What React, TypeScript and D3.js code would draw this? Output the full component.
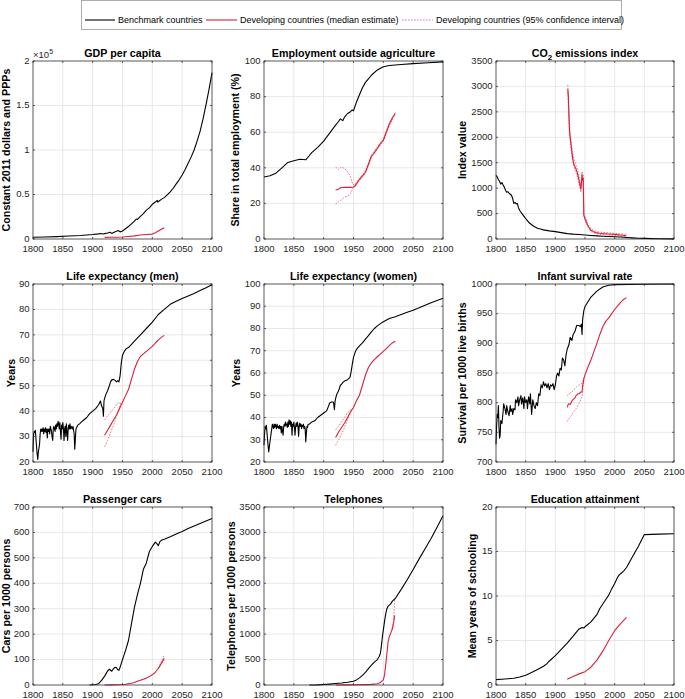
import React from "react";
import * as d3 from "d3";

type Pt = [number, number];

// ---------- tick labels ----------
const xTicks = [1800, 1850, 1900, 1950, 2000, 2050, 2100];
const gdpTicks = [0, 50000, 100000, 150000, 200000];
const pctTicks = [0, 20, 40, 60, 80, 100];
const co2Ticks = [0, 500, 1000, 1500, 2000, 2500, 3000, 3500];
const lifeMenTicks = [20, 30, 40, 50, 60, 70, 80, 90];
const lifeWomenTicks = [20, 30, 40, 50, 60, 70, 80, 90, 100];
const infantTicks = [700, 750, 800, 850, 900, 950, 1000];
const carTicks = [0, 100, 200, 300, 400, 500, 600, 700];
const telTicks = [0, 500, 1000, 1500, 2000, 2500, 3000, 3500];
const eduTicks = [0, 5, 10, 15, 20];

const legendLabels = [
  "Benchmark countries",
  "Developing countries (median estimate)",
  "Developing countries (95% confidence interval)",
];

// ---------- GDP per capita ----------
const gdpBench: Pt[] = [[1800,2000],[1820,2300],[1840,2700],[1860,3300],[1880,4000],[1900,5000],[1910,5800],[1913,6200],[1918,5700],[1920,6000],[1925,6800],[1929,7600],[1932,6300],[1935,7200],[1940,8600],[1943,9500],[1946,8000],[1950,9000],[1955,11500],[1960,14000],[1965,17000],[1970,20000],[1973,22500],[1975,22000],[1980,25500],[1985,28500],[1990,32500],[1995,35000],[2000,39000],[2005,41500],[2008,43500],[2009,41500],[2012,43000],[2015,44500],[2020,46500],[2025,49500],[2030,53000],[2035,57000],[2040,62000],[2045,66500],[2050,72000],[2055,78000],[2060,85000],[2065,92000],[2070,100000],[2075,110000],[2080,121000],[2085,135000],[2090,151000],[2095,168000],[2100,187000]];
const gdpDev: Pt[] = [[1920,1800],[1930,1900],[1940,2000],[1950,2200],[1960,2800],[1970,3500],[1980,4500],[1990,5000],[2000,5500],[2005,7000],[2010,9000],[2015,11000],[2020,12500]];

// ---------- Employment outside agriculture ----------
const empBench: Pt[] = [[1800,34.8],[1810,35.5],[1820,37],[1830,40],[1840,43],[1850,44],[1860,44.8],[1870,44.5],[1875,46.5],[1880,48.5],[1890,51.5],[1900,55],[1910,59.5],[1920,64],[1925,66],[1928,67.5],[1932,66.5],[1935,68.5],[1940,70.5],[1945,71.5],[1948,72.5],[1950,72],[1952,74],[1955,77],[1960,81],[1965,85],[1970,88],[1975,90],[1980,92],[1990,95],[2000,96.8],[2010,97.5],[2030,98],[2050,98.5],[2075,99],[2100,99.5]];
const empDev: Pt[] = [[1920,27.5],[1925,28],[1928,28.8],[1935,29],[1945,29],[1950,29.2],[1953,30],[1957,32],[1960,33.5],[1965,35.5],[1970,37.5],[1975,42],[1980,46.5],[1985,48.5],[1990,51],[1995,53.5],[2000,55.5],[2005,60],[2010,64.5],[2015,68],[2020,70.5]];
const empUp: Pt[] = [[1920,40.5],[1925,39],[1930,40.5],[1935,39.5],[1940,38],[1945,35],[1949,30.5],[1953,30.6],[1960,34.2],[1970,38.2],[1980,47.2],[1990,51.7],[2000,56.2],[2010,65.3],[2020,71]];
const empLo: Pt[] = [[1920,19.5],[1925,21],[1930,22],[1935,23.5],[1940,24],[1945,25.5],[1950,29.4],[1953,29.5],[1960,32.8],[1970,36.9],[1980,45.8],[1990,50.4],[2000,54.8],[2010,63.8],[2020,70]];

// ---------- CO2 emissions index ----------
const co2Bench: Pt[] = [[1800,1250],[1802,1220],[1804,1170],[1806,1130],[1808,1080],[1810,1110],[1812,1060],[1814,1020],[1816,960],[1818,920],[1820,930],[1822,900],[1824,880],[1826,860],[1828,800],[1830,700],[1832,720],[1834,690],[1836,700],[1838,610],[1840,560],[1845,480],[1850,400],[1855,330],[1860,280],[1865,240],[1870,210],[1875,195],[1880,180],[1890,160],[1900,145],[1910,125],[1920,105],[1930,95],[1940,88],[1950,80],[1960,70],[1970,62],[1980,55],[1990,50],[2000,45],[2010,38],[2020,30],[2030,22],[2040,16],[2050,12],[2075,6],[2100,3]];
const co2Dev: Pt[] = [[1921,2950],[1922,2800],[1923,2400],[1924,2100],[1925,2000],[1927,1800],[1929,1600],[1931,1480],[1933,1420],[1935,1370],[1937,1300],[1939,1200],[1941,1100],[1943,980],[1944,1100],[1945,1270],[1946,1150],[1947,1200],[1948,470],[1950,400],[1952,340],[1955,260],[1958,200],[1960,170],[1965,140],[1970,120],[1975,112],[1980,106],[1990,98],[2000,90],[2010,80],[2020,65]];
const co2Up: Pt[] = [[1921,3030],[1923,2500],[1925,2080],[1929,1680],[1933,1500],[1937,1380],[1941,1170],[1943,1050],[1945,1330],[1947,1270],[1948,500],[1950,440],[1955,290],[1960,195],[1970,145],[1980,130],[2000,112],[2020,90]];
const co2Lo: Pt[] = [[1921,2880],[1923,2300],[1925,1920],[1929,1530],[1933,1350],[1937,1230],[1941,1030],[1943,920],[1945,1200],[1947,1140],[1948,440],[1950,370],[1955,235],[1960,145],[1970,100],[1980,88],[2000,72],[2020,50]];

// ---------- Life expectancy (men) ----------
const menBench: Pt[] = [[1800,24],[1801,31],[1802,32],[1803,31.5],[1804,32.5],[1805,29],[1806,26],[1807,23],[1808,21],[1809,24],[1810,25.5],[1811,27],[1812,31],[1813,33],[1814,32],[1815,33],[1816,32],[1817,33.5],[1818,31],[1819,33],[1820,32],[1821,33.5],[1822,31.5],[1823,33],[1824,29.5],[1825,33],[1826,32],[1827,33],[1828,31],[1829,34],[1830,33],[1831,32],[1832,30],[1833,28.5],[1834,33],[1835,34],[1836,33],[1837,32],[1838,34.5],[1839,33],[1840,35],[1841,34],[1842,36],[1843,35],[1844,33],[1845,35.5],[1846,32],[1847,29],[1848,34.5],[1849,33],[1850,35.5],[1851,33],[1852,28.5],[1853,33],[1854,34],[1855,30],[1856,35],[1857,32],[1858,28.5],[1859,33],[1860,34.5],[1861,33],[1862,35],[1863,33],[1864,34],[1865,33.5],[1866,33],[1867,34],[1868,32.5],[1869,31],[1870,25],[1871,29],[1872,33],[1873,33.5],[1874,34],[1875,34.5],[1878,35],[1880,35.5],[1885,36.5],[1890,37.5],[1895,39],[1900,40],[1905,41],[1910,42.5],[1913,44],[1915,42],[1917,41],[1918,38],[1919,44],[1920,45],[1922,46.5],[1925,48],[1928,50],[1930,51.5],[1932,52.3],[1935,52.5],[1938,52],[1940,51.5],[1942,52],[1944,51.5],[1946,54],[1948,59],[1950,62],[1953,63.5],[1956,64.5],[1960,65],[1970,67.5],[1980,70],[1990,72.5],[2000,75],[2010,78],[2020,80],[2030,82],[2040,83.2],[2050,84.3],[2060,85.3],[2070,86.3],[2080,87.4],[2090,88.5],[2100,89.7]];
const menDev: Pt[] = [[1920,30.5],[1925,32.5],[1930,34.5],[1935,36.5],[1940,38.5],[1945,41],[1950,43.5],[1955,46],[1960,48.5],[1965,52.5],[1970,56.5],[1975,59.5],[1980,61.5],[1985,62.5],[1990,63.5],[1995,64.5],[2000,65.5],[2005,66.8],[2010,68],[2015,69],[2020,69.8]];
const menUp: Pt[] = [[1920,36.5],[1925,38],[1930,39.5],[1935,41],[1940,42.5],[1944,43.5],[1948,42.5]];
const menLo: Pt[] = [[1920,26],[1925,28.5],[1930,31.5],[1935,34.5],[1940,38],[1944,41],[1947,43],[1950,43.5]];

// ---------- Life expectancy (women) ----------
const womenBench: Pt[] = [[1800,27.5],[1801,33],[1802,36],[1803,35],[1804,36.5],[1805,33],[1806,30],[1807,27],[1808,24.5],[1809,27],[1810,29],[1811,31],[1812,33],[1813,35],[1814,37],[1815,36],[1816,35],[1817,37],[1818,35.5],[1819,37],[1820,36],[1821,35],[1822,37],[1823,35.5],[1824,36],[1825,35],[1826,36.5],[1827,35],[1828,36],[1829,33],[1830,36],[1831,34],[1832,32],[1833,36],[1834,37],[1835,36],[1836,38],[1837,36.5],[1838,37],[1839,35.5],[1840,38],[1841,36],[1842,39],[1843,37],[1844,38.5],[1845,36],[1846,38],[1847,32],[1848,37],[1849,36],[1850,38],[1851,35.5],[1852,32],[1853,36],[1854,37.5],[1855,36],[1856,38],[1857,36],[1858,31.5],[1859,36],[1860,37.5],[1861,36],[1862,37],[1863,35],[1864,36.5],[1865,36],[1866,37],[1867,35],[1868,36],[1869,35],[1870,29],[1871,33],[1872,36],[1873,35.5],[1874,37],[1876,37],[1878,37.5],[1880,38],[1885,38.5],[1890,40],[1895,41],[1900,42],[1905,43],[1908,45],[1910,46.5],[1913,47],[1916,47],[1917,46],[1918,43.5],[1919,47],[1920,48.5],[1922,50.5],[1925,52],[1928,54.5],[1930,55],[1933,56],[1936,56.5],[1940,57],[1942,57.5],[1944,58],[1946,60.5],[1948,64],[1950,67],[1953,69.5],[1956,71],[1960,72.2],[1965,73.5],[1970,75.2],[1975,76.8],[1980,78.5],[1985,80],[1990,81.2],[1995,82.2],[2000,83],[2010,84.5],[2020,85.3],[2030,86.3],[2040,87.3],[2050,88.2],[2060,89.3],[2070,90.5],[2080,91.6],[2090,92.6],[2100,93.6]];
const womenDev: Pt[] = [[1920,31],[1925,33.5],[1930,35.5],[1935,37.5],[1940,40],[1945,42.5],[1950,44.5],[1955,47.5],[1960,50],[1965,54.5],[1970,59],[1975,62.5],[1980,64.5],[1985,66],[1990,67.3],[1995,68.5],[2000,69.7],[2005,71],[2010,72.3],[2015,73.5],[2020,74.3]];
const womenUp: Pt[] = [[1920,34.5],[1925,36],[1930,38],[1935,40],[1940,42],[1945,43.5],[1948,43.8]];
const womenLo: Pt[] = [[1920,27.5],[1925,30],[1930,32.5],[1935,35.5],[1940,39],[1945,42.5],[1948,44]];

// ---------- Infant survival rate ----------
const infBench: Pt[] = [[1800,730],[1801,760],[1802,780],[1803,775],[1804,795],[1805,760],[1806,740],[1807,745],[1808,770],[1810,765],[1812,785],[1813,798],[1815,790],[1817,780],[1818,795],[1820,785],[1822,778],[1824,795],[1825,785],[1827,790],[1828,780],[1830,790],[1832,788],[1833,805],[1835,800],[1837,810],[1838,795],[1840,805],[1842,812],[1843,798],[1845,808],[1847,790],[1848,810],[1850,800],[1852,805],[1853,790],[1855,810],[1857,798],[1858,815],[1860,780],[1862,805],[1864,795],[1866,790],[1868,800],[1870,795],[1872,815],[1874,812],[1876,830],[1878,825],[1880,835],[1882,828],[1884,832],[1886,825],[1888,832],[1890,822],[1892,830],[1894,828],[1896,832],[1898,822],[1900,830],[1902,845],[1904,850],[1906,845],[1908,858],[1910,855],[1912,875],[1914,872],[1916,862],[1918,880],[1920,890],[1923,898],[1925,910],[1928,905],[1930,915],[1933,920],[1936,930],[1940,930],[1942,928],[1944,932],[1945,915],[1946,940],[1948,955],[1950,962],[1955,970],[1960,978],[1970,988],[1980,995],[1990,998],[2000,999],[2050,999.7],[2100,1000]];
const infDev: Pt[] = [[1920,792],[1922,798],[1925,797],[1928,803],[1930,805],[1933,808],[1935,812],[1938,815],[1940,815],[1943,818],[1945,818],[1946,828],[1948,840],[1950,847],[1955,860],[1960,872],[1965,886],[1970,900],[1975,915],[1980,928],[1985,937],[1990,943],[1995,950],[2000,957],[2005,963],[2010,969],[2015,974],[2020,977]];
const infUp: Pt[] = [[1920,812],[1925,816],[1930,820],[1935,826],[1940,830],[1945,833],[1947,838],[1948,842]];
const infLo: Pt[] = [[1920,768],[1925,776],[1930,783],[1935,790],[1940,799],[1945,810],[1947,830],[1948,838]];

// ---------- Passenger cars ----------
const carBench: Pt[] = [[1895,0],[1900,1],[1905,2],[1910,5],[1915,18],[1920,35],[1925,55],[1928,62],[1930,58],[1932,54],[1935,65],[1938,70],[1940,68],[1942,60],[1944,58],[1946,70],[1948,85],[1950,100],[1955,135],[1960,175],[1965,240],[1970,305],[1975,355],[1980,400],[1985,455],[1988,470],[1990,480],[1995,525],[2000,545],[2005,562],[2008,555],[2010,548],[2013,565],[2016,570],[2020,573],[2030,583],[2040,594],[2050,604],[2060,615],[2070,625],[2080,635],[2090,645],[2100,655]];
const carDev: Pt[] = [[1920,0],[1930,0.5],[1940,1],[1950,2],[1955,3],[1960,5],[1965,7],[1970,10],[1975,15],[1980,19],[1985,23],[1990,27],[1995,33],[2000,40],[2005,50],[2010,65],[2015,85],[2020,105]];
const carUp: Pt[] = [[2010,66],[2015,90],[2020,117]];
const carLo: Pt[] = [[2010,64],[2015,82],[2020,98]];

// ---------- Telephones ----------
const telBench: Pt[] = [[1876,0],[1890,3],[1900,10],[1910,18],[1920,28],[1930,40],[1940,55],[1950,75],[1955,100],[1960,140],[1965,190],[1970,250],[1975,320],[1980,390],[1985,450],[1990,500],[1993,560],[1995,620],[1996,700],[1997,800],[1998,900],[1999,1000],[2000,1080],[2002,1250],[2004,1400],[2006,1500],[2008,1550],[2010,1570],[2012,1590],[2014,1630],[2016,1660],[2020,1700],[2030,1880],[2040,2070],[2050,2270],[2060,2480],[2070,2680],[2080,2880],[2090,3100],[2100,3330]];
const telDev: Pt[] = [[1920,0],[1940,2],[1960,5],[1970,8],[1980,12],[1990,25],[1995,50],[1998,80],[2000,100],[2002,200],[2004,400],[2006,620],[2008,850],[2010,950],[2012,1010],[2014,1070],[2016,1150],[2018,1280],[2019,1370]];
const telUp: Pt[] = [[2015,1110],[2017,1250],[2018,1450],[2019,1670]];
const telLo: Pt[] = [[2015,1090],[2017,1140],[2019,1150]];

// ---------- Education attainment ----------
const eduBench: Pt[] = [[1800,0.6],[1810,0.65],[1820,0.7],[1830,0.75],[1840,0.9],[1850,1.1],[1860,1.4],[1870,1.75],[1880,2.1],[1885,2.35],[1890,2.7],[1900,3.3],[1910,4.0],[1920,4.7],[1930,5.5],[1940,6.3],[1945,6.45],[1948,6.4],[1950,6.55],[1960,7.1],[1970,7.9],[1975,8.6],[1980,9.1],[1985,9.6],[1990,10.1],[1995,10.8],[2000,11.4],[2005,12.1],[2008,12.4],[2010,12.5],[2015,12.8],[2020,13.2],[2030,14.4],[2040,15.6],[2050,16.9],[2075,16.95],[2100,17.0]];
const eduDev: Pt[] = [[1920,0.65],[1930,0.95],[1940,1.25],[1950,1.5],[1960,2.0],[1970,2.8],[1980,3.8],[1990,5.0],[2000,6.1],[2010,6.9],[2020,7.6]];

// ---------- layout ----------
const FONT = "'Liberation Sans', Arial, Helvetica, sans-serif";
const colLeft = [33, 264, 496];
const colWidth = [179, 179, 178];
const rowTop = [61, 284, 507];
const PH = 178;
const RED = "#d7223b";
const CI = "#e5526a";
const AX = "#262626";
const TICK_FS = 9.5;

interface PanelDef {
  title: React.ReactNode;
  ylabel: string;
  yTicks: number[];
  fmt: (v: number) => string;
  bench: Pt[];
  dev: Pt[];
  up?: Pt[];
  lo?: Pt[];
  ylabOff: number;
  exp?: boolean;
}

const panels: PanelDef[] = [
  { title: "GDP per capita", ylabel: "Constant 2011 dollars and PPPs", yTicks: gdpTicks, fmt: (v) => String(v / 1e5), bench: gdpBench, dev: gdpDev, ylabOff: -23, exp: true },
  { title: "Employment outside agriculture", ylabel: "Share in total employment (%)", yTicks: pctTicks, fmt: String, bench: empBench, dev: empDev, up: empUp, lo: empLo, ylabOff: -25 },
  { title: (<>CO<tspan dy={3} fontSize={8}>2</tspan><tspan dy={-3}> emissions index</tspan></>), ylabel: "Index value", yTicks: co2Ticks, fmt: String, bench: co2Bench, dev: co2Dev, up: co2Up, lo: co2Lo, ylabOff: -30 },
  { title: "Life expectancy (men)", ylabel: "Years", yTicks: lifeMenTicks, fmt: String, bench: menBench, dev: menDev, up: menUp, lo: menLo, ylabOff: -18 },
  { title: "Life expectancy (women)", ylabel: "Years", yTicks: lifeWomenTicks, fmt: String, bench: womenBench, dev: womenDev, up: womenUp, lo: womenLo, ylabOff: -24 },
  { title: "Infant survival rate", ylabel: "Survival per 1000 live births", yTicks: infantTicks, fmt: String, bench: infBench, dev: infDev, up: infUp, lo: infLo, ylabOff: -30 },
  { title: "Passenger cars", ylabel: "Cars per 1000 persons", yTicks: carTicks, fmt: String, bench: carBench, dev: carDev, up: carUp, lo: carLo, ylabOff: -23.5 },
  { title: "Telephones", ylabel: "Telephones per 1000 persons", yTicks: telTicks, fmt: String, bench: telBench, dev: telDev, up: telUp, lo: telLo, ylabOff: -29.5 },
  { title: "Education attainment", ylabel: "Mean years of schooling", yTicks: eduTicks, fmt: String, bench: eduBench, dev: eduDev, ylabOff: -20 },
];

function Panel({ p, idx }: { p: PanelDef; idx: number }) {
  const r = Math.floor(idx / 3);
  const c = idx % 3;
  const left = colLeft[c];
  const top = rowTop[r];
  const W = colWidth[c];
  const x = d3.scaleLinear().domain([1800, 2100]).range([left, left + W]);
  const yMin = p.yTicks[0];
  const yMax = p.yTicks[p.yTicks.length - 1];
  const y = d3.scaleLinear().domain([yMin, yMax]).range([top + PH, top]);
  const line = d3.line<Pt>().x((d) => x(d[0])).y((d) => y(d[1]));
  const bottom = top + PH;
  const right = left + W;
  const tl = 2;
  return (
    <g>
      {xTicks.map((t) => (
        <line key={"gx" + t} x1={x(t)} x2={x(t)} y1={top} y2={bottom} stroke="#e2e2e2" strokeWidth={0.8} />
      ))}
      {p.yTicks.map((t) => (
        <line key={"gy" + t} x1={left} x2={right} y1={y(t)} y2={y(t)} stroke="#e2e2e2" strokeWidth={0.8} />
      ))}
      {p.up && <path d={line(p.up) || ""} fill="none" stroke={CI} strokeWidth={0.8} strokeDasharray="1.6,1.4" />}
      {p.lo && <path d={line(p.lo) || ""} fill="none" stroke={CI} strokeWidth={0.8} strokeDasharray="1.6,1.4" />}
      <path d={line(p.bench) || ""} fill="none" stroke="#000" strokeWidth={1.1} strokeLinejoin="round" />
      <path d={line(p.dev) || ""} fill="none" stroke={RED} strokeWidth={1.1} strokeLinejoin="round" />
      <rect x={left} y={top} width={W} height={PH} fill="none" stroke={AX} strokeWidth={0.7} />
      {xTicks.map((t) => (
        <g key={"tx" + t}>
          <line x1={x(t)} x2={x(t)} y1={bottom} y2={bottom - tl} stroke={AX} strokeWidth={0.7} />
          <line x1={x(t)} x2={x(t)} y1={top} y2={top + tl} stroke={AX} strokeWidth={0.7} />
          <text x={x(t)} y={bottom + 13.3} textAnchor="middle" fontSize={TICK_FS} fill={AX} fontFamily={FONT}>
            {t}
          </text>
        </g>
      ))}
      {p.yTicks.map((t) => (
        <g key={"ty" + t}>
          <line x1={left} x2={left + tl} y1={y(t)} y2={y(t)} stroke={AX} strokeWidth={0.7} />
          <line x1={right} x2={right - tl} y1={y(t)} y2={y(t)} stroke={AX} strokeWidth={0.7} />
          <text x={left - 3.5} y={y(t) + 2.8} textAnchor="end" fontSize={TICK_FS} fill={AX} fontFamily={FONT}>
            {p.fmt(t)}
          </text>
        </g>
      ))}
      {p.exp && (
        <text x={left} y={top - 3} fontSize={TICK_FS} fill={AX} fontFamily={FONT}>
          ×10<tspan dy={-4} fontSize={7}>5</tspan>
        </text>
      )}
      <text x={(left + right) / 2} y={top - 4} textAnchor="middle" fontSize={10.7} fontWeight="bold" fill="#000" fontFamily={FONT}>
        {p.title}
      </text>
      <text
        transform={`translate(${left + p.ylabOff},${(top + bottom) / 2}) rotate(-90)`}
        textAnchor="middle"
        fontSize={10.7}
        fontWeight="bold"
        fill="#000"
        fontFamily={FONT}
      >
        {p.ylabel}
      </text>
    </g>
  );
}

function Legend() {
  const ly = 20;
  return (
    <g fontFamily={FONT} fontSize={9}>
      <rect x={81.5} y={0.5} width={540} height={29} fill="#fff" stroke="#9a9a9a" strokeWidth={0.8} />
      <line x1={85} x2={115} y1={ly} y2={ly} stroke="#000" strokeWidth={1.1} />
      <text x={118} y={ly + 3.2} fill="#000">{legendLabels[0]}</text>
      <line x1={206} x2={237} y1={ly} y2={ly} stroke={RED} strokeWidth={1.1} />
      <text x={240} y={ly + 3.2} fill="#000">{legendLabels[1]}</text>
      <line x1={402} x2={433} y1={ly} y2={ly} stroke={CI} strokeWidth={0.8} strokeDasharray="1.6,1.4" />
      <text x={436} y={ly + 3.2} fill="#000">{legendLabels[2]}</text>
    </g>
  );
}

export default function App() {
  return (
    <div style={{ position: "absolute", left: 0, top: 0 }}>
      <svg width={685} height={699} viewBox="0 0 685 699" style={{ display: "block", background: "#fff" }}>
        <rect x={0} y={0} width={685} height={699} fill="#fff" />
        <Legend />
        {panels.map((p, i) => (
          <Panel key={i} p={p} idx={i} />
        ))}
      </svg>
    </div>
  );
}
